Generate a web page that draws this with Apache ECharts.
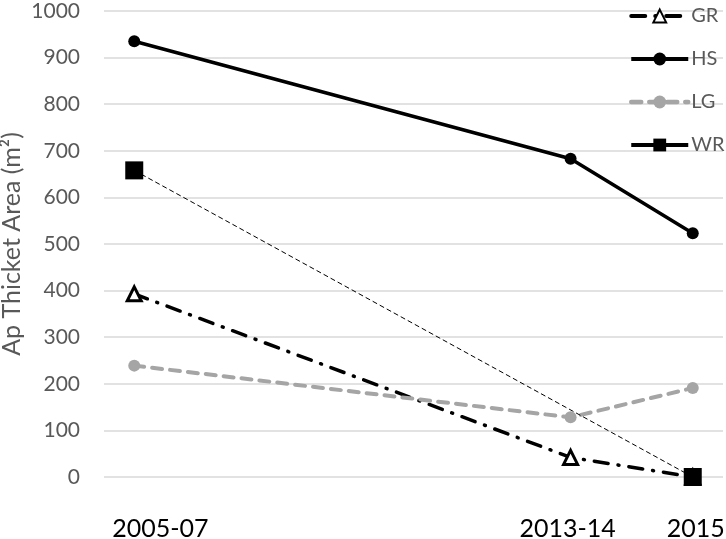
<!DOCTYPE html>
<html>
<head>
<meta charset="utf-8">
<script src="https://cdn.jsdelivr.net/npm/echarts@6/dist/echarts.min.js"></script>
<style>
html,body{margin:0;padding:0;background:#fff;}
#chart{width:726px;height:539px;}
</style>
</head>
<body>
<div id="chart"></div>
<script>
// Data
var periodX = [2006, 2013.5, 2015.6];          // plotted position of each period
var tickLabels = ['2005-07', '2013-14', '2015'];
var tickLabelX = [2006.45, 2013.45, 2015.65];  // where each period label sits
var seriesNames = ['GR', 'HS', 'LG', 'WR'];
var grValues = [393, 42, 0];
var hsValues = [935, 683, 523];
var lgValues = [239, 128, 191];
var wrValues = [658, null, 0];

function pts(vals) {
  return vals.map(function (v, i) { return [periodX[i], v]; });
}

var FONT = 'Lato';
var chart = echarts.init(document.getElementById('chart'));
chart.setOption({
  animation: false,
  backgroundColor: '#ffffff',
  grid: { left: 104, right: 3, top: 11, bottom: 62, containLabel: false, outerBoundsMode: 'none' },
  legend: {
    orient: 'vertical',
    left: 624,
    top: 1,
    itemWidth: 57,
    itemHeight: 16,
    itemGap: 23,
    lineStyle: { width: 4 },
    textStyle: { color: '#595959', fontSize: 20, fontFamily: FONT, padding: [0, 0, 0, -2] },
    data: [
      { name: 'GR', lineStyle: { width: 4, type: [14, 10, 1, 10], color: '#000' } },
      { name: 'HS', lineStyle: { width: 4, type: 'solid', color: '#000' } },
      { name: 'LG', lineStyle: { width: 4.5, type: [10, 8], color: '#a5a5a5' } },
      { name: 'WR', lineStyle: { width: 4, type: 'solid', color: '#000' } }
    ]
  },
  xAxis: {
    type: 'value',
    min: 2005.48,
    max: 2016.12,
    axisLine: { show: false },
    axisTick: { show: false },
    splitLine: { show: false },
    axisLabel: {
      customValues: tickLabelX,
      formatter: function (v) {
        for (var i = 0; i < tickLabelX.length; i++) {
          if (Math.abs(tickLabelX[i] - v) < 1e-6) return tickLabels[i];
        }
        return '';
      },
      color: '#000',
      fontSize: 25,
      fontFamily: FONT,
      margin: 39
    }
  },
  yAxis: {
    type: 'value',
    min: 0,
    max: 1000,
    interval: 100,
    name: 'Ap Thicket Area (m\u00B2)',
    nameLocation: 'middle',
    nameGap: 80,
    nameMoveOverlap: false,
    nameTextStyle: { color: '#595959', fontSize: 25, fontFamily: FONT },
    axisLine: { show: false },
    axisTick: { show: false },
    splitLine: { lineStyle: { color: '#d9d9d9', width: 1.5 } },
    axisLabel: {
      color: '#595959', fontSize: 21, fontFamily: FONT, margin: 24,
      formatter: function (v) { return String(v); }
    }
  },
  series: [
    {
      name: seriesNames[0], type: 'line', data: pts(grValues),
      symbol: 'triangle', symbolSize: 14,
      itemStyle: { color: '#ffffff', borderColor: '#000', borderWidth: 3 },
      lineStyle: { color: '#000', width: 3.5, type: [14, 10, 1, 10], cap: 'round' }
    },
    {
      name: seriesNames[1], type: 'line', data: pts(hsValues),
      symbol: 'circle', symbolSize: 12,
      itemStyle: { color: '#000' },
      lineStyle: { color: '#000', width: 3.5 }
    },
    {
      name: seriesNames[2], type: 'line', data: pts(lgValues),
      symbol: 'circle', symbolSize: 12,
      itemStyle: { color: '#a5a5a5' },
      lineStyle: { color: '#a5a5a5', width: 4, type: [10, 8], cap: 'round' }
    },
    {
      name: seriesNames[3], type: 'line', data: pts(wrValues),
      connectNulls: true,
      symbol: 'rect', symbolSize: 18,
      itemStyle: { color: '#000' },
      lineStyle: { color: '#000', width: 1, type: [5, 3] }
    }
  ]
});
</script>
</body>
</html>
